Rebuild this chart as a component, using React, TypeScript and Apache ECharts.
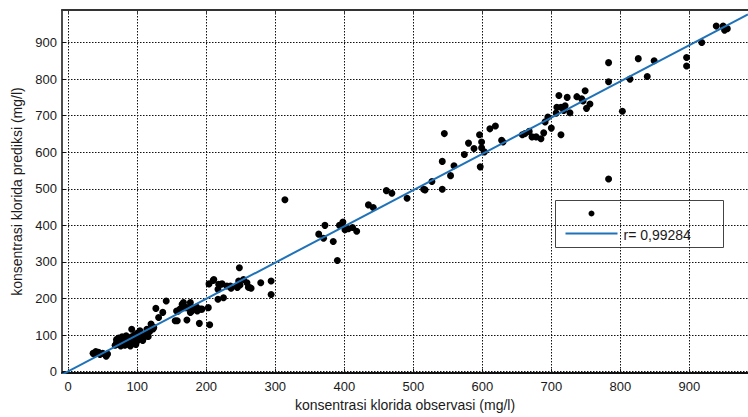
import React, { useEffect, useRef } from "react";
import * as echarts from "echarts";

const xTicks = [0, 100, 200, 300, 400, 500, 600, 700, 800, 900];
const yTicks = [0, 100, 200, 300, 400, 500, 600, 700, 800, 900];
const xRange = [-9, 985];
const yRange = [-4, 989];

const xTitle = "konsentrasi klorida observasi (mg/l)";
const yTitle = "konsentrasi klorida prediksi (mg/l)";
const legendText = "r= 0,99284";

// [observasi, prediksi]
const scatterPoints: [number, number][] = [
  [36, 50], [40, 55], [44, 53], [46, 47], [50, 50], [55, 42], [57, 48], [38, 48],
  [68, 72], [70, 80], [70, 88], [72, 75], [73, 92], [75, 83], [76, 70], [78, 86], [78, 95],
  [80, 78], [80, 90], [82, 72], [83, 84], [84, 98], [85, 88], [86, 76], [88, 92], [88, 80],
  [90, 70], [90, 86], [92, 116], [92, 95], [93, 78], [95, 88], [96, 100], [98, 74], [99, 92],
  [100, 84], [100, 105], [102, 90], [104, 112], [106, 98], [108, 85], [110, 94],
  [112, 102], [114, 101], [114, 116], [116, 96],
  [118, 110], [120, 130], [121, 125], [123, 117], [124, 121], [127, 173], [131, 148], [137, 162], [142, 193],
  [155, 139], [158, 139], [157, 166], [159, 165], [162, 171], [165, 184], [167, 189], [170, 175],
  [172, 141], [172, 175], [177, 189], [177, 162], [179, 166], [182, 173], [184, 175], [186, 177],
  [187, 166], [190, 132], [192, 171], [194, 171], [203, 175], [205, 128],
  [204, 240], [210, 249], [211, 252], [217, 225], [217, 198], [218, 239], [221, 239], [223, 240],
  [225, 202], [230, 234], [235, 234], [236, 228], [245, 230], [245, 233], [247, 248], [248, 284],
  [249, 237], [254, 252], [259, 243], [261, 231], [263, 230], [265, 228], [279, 243], [294, 248], [294, 211],
  [314, 470], [363, 376], [370, 365], [372, 400], [384, 356], [390, 304], [393, 400], [397, 403],
  [398, 409], [401, 388], [406, 391], [412, 394], [418, 384], [435, 456], [442, 449], [461, 495],
  [469, 488], [491, 474], [515, 499], [517, 497], [527, 520], [542, 499], [542, 575], [545, 651],
  [554, 536], [559, 563], [574, 594], [580, 625], [588, 610], [596, 648], [597, 560], [599, 628],
  [599, 612], [603, 601], [611, 664], [619, 672], [628, 633], [630, 628], [658, 648], [662, 651],
  [668, 657], [672, 642], [678, 642], [685, 637], [689, 653], [691, 683], [695, 696], [700, 666],
  [707, 707], [708, 723], [711, 755], [714, 723], [714, 648], [718, 714], [720, 727], [723, 750],
  [727, 708], [737, 752], [744, 746], [746, 740], [749, 768], [751, 720], [756, 732], [783, 527],
  [783, 845], [783, 793], [803, 712], [814, 800], [826, 856], [839, 807], [849, 850], [896, 859],
  [896, 836], [918, 900], [939, 945], [949, 945], [951, 934], [955, 938],
];

const fitLine: [number, number][] = [
  [-9, -8],
  [985, 977],
];

const FONT = "Liberation Sans, Arial, Helvetica, sans-serif";
const BLUE = "#1f72b8";

export default function App() {
  const ref = useRef<HTMLDivElement>(null);

  useEffect(() => {
    if (!ref.current) return;
    const chart = echarts.init(ref.current, undefined, { renderer: "svg" });
    const grid = { left: 62, right: 0, top: 10, bottom: 41 };

    chart.setOption({
      animation: false,
      backgroundColor: "#ffffff",
      grid,
      xAxis: [
        {
          type: "value",
          position: "bottom",
          min: xRange[0],
          max: xRange[1],
          name: xTitle,
          nameLocation: "middle",
          nameGap: 20,
          nameTextStyle: { fontFamily: FONT, fontSize: 14, color: "#1a1a1a" },
          axisLine: { show: true, onZero: false, lineStyle: { color: "#111", width: 2 } },
          axisTick: { show: true, inside: true, length: 4, customValues: xTicks, lineStyle: { color: "#111" } },
          axisLabel: { customValues: xTicks, fontFamily: FONT, fontSize: 13, color: "#1a1a1a", margin: 7 },
          splitLine: { show: true, lineStyle: { color: "#111", width: 1, type: [1.5, 1.5] } },
        },
        {
          type: "value",
          position: "top",
          min: xRange[0],
          max: xRange[1],
          axisLine: { show: true, onZero: false, lineStyle: { color: "#333", width: 2 } },
          axisTick: { show: true, inside: true, length: 4, customValues: xTicks, lineStyle: { color: "#333" } },
          axisLabel: { show: false },
          splitLine: { show: false },
        },
      ],
      yAxis: {
        type: "value",
        min: yRange[0],
        max: yRange[1],
        name: yTitle,
        nameLocation: "middle",
        nameGap: 37,
        nameTextStyle: { fontFamily: FONT, fontSize: 14, color: "#1a1a1a" },
        axisLine: { show: true, onZero: false, lineStyle: { color: "#111", width: 1.5 } },
        axisTick: { show: true, inside: true, length: 4, customValues: yTicks, lineStyle: { color: "#111" } },
        axisLabel: { customValues: yTicks, fontFamily: FONT, fontSize: 13, color: "#1a1a1a", margin: 5 },
        splitLine: { show: true, lineStyle: { color: "#111", width: 1, type: [1.5, 1.5] } },
      },
      series: [
        {
          type: "scatter",
          xAxisIndex: 0,
          data: scatterPoints,
          symbol: "circle",
          symbolSize: 7,
          itemStyle: { color: "#000", opacity: 1 },
          silent: true,
          z: 3,
        },
        {
          type: "line",
          xAxisIndex: 0,
          data: fitLine,
          showSymbol: false,
          lineStyle: { color: BLUE, width: 2 },
          silent: true,
          z: 4,
        },
      ],
      graphic: [
        {
          type: "group",
          left: 555,
          top: 200,
          z: 100,
          children: [
            {
              type: "rect",
              shape: { x: 0, y: 0, width: 168, height: 47 },
              style: { fill: "#fff", stroke: "#444", lineWidth: 1 },
            },
            {
              type: "circle",
              shape: { cx: 36, cy: 13, r: 3 },
              style: { fill: "#000" },
            },
            {
              type: "line",
              shape: { x1: 10, y1: 33, x2: 62, y2: 33 },
              style: { stroke: BLUE, lineWidth: 2 },
            },
            {
              type: "text",
              x: 68,
              y: 34,
              style: {
                text: legendText,
                fontFamily: FONT,
                fontSize: 14,
                fill: "#1a1a1a",
                verticalAlign: "middle",
              },
            },
          ],
        },
      ],
    });

    return () => chart.dispose();
  }, []);

  return (
    <div
      ref={ref}
      style={{ position: "fixed", left: 0, top: 0, width: 748, height: 417, background: "#fff" }}
    />
  );
}
